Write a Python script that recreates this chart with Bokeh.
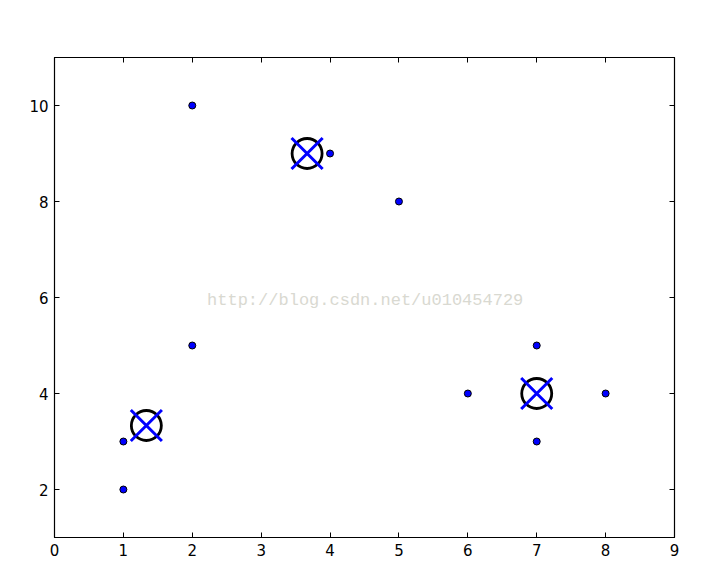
from bokeh.plotting import figure
from bokeh.models import LinearAxis, Range1d, FixedTicker, Label, CustomLabelingPolicy
from bokeh.embed import file_html
from bokeh.resources import INLINE

# data points
xs = [2, 4, 5, 1, 1, 2, 6, 7, 7, 8]
ys = [10, 9, 8, 3, 2, 5, 4, 5, 3, 4]
# centroids
cx = [4/3, 11/3, 7]
cy = [10/3, 9, 4]

x_ticks = [0, 1, 2, 3, 4, 5, 6, 7, 8, 9]
y_ticks = [2, 4, 6, 8, 10]

p = figure(width=703, height=573, output_backend="svg", toolbar_location=None,
           x_range=Range1d(0, 9), y_range=Range1d(1, 11),
           min_border_left=54, min_border_right=29, min_border_top=57, min_border_bottom=36,
           x_axis_location=None, y_axis_location=None)
p.xgrid.visible = False
p.ygrid.visible = False
p.outline_line_color = "black"
p.outline_line_width = 1.2
p.background_fill_color = "white"
p.border_fill_color = "white"

hide_labels = CustomLabelingPolicy(code="for (const i of indices) indices.unset(i); return indices")

def style(ax, ticks, labels=True):
    ax.ticker = FixedTicker(ticks=ticks)
    ax.major_tick_in = 5
    ax.major_tick_out = 0
    ax.minor_tick_in = 0
    ax.minor_tick_out = 0
    ax.axis_line_color = "black"
    ax.major_tick_line_color = "black"
    ax.major_label_text_font = "DejaVu Sans"
    ax.major_label_text_font_size = "15px"
    ax.major_label_text_color = "black"
    ax.major_label_standoff = 6
    if not labels:
        ax.major_label_policy = hide_labels
        ax.major_label_standoff = 0

bx = LinearAxis(); style(bx, x_ticks)
lx = LinearAxis(); style(lx, y_ticks)
tx = LinearAxis(); style(tx, x_ticks, False)
rx = LinearAxis(); style(rx, y_ticks, False)
p.add_layout(bx, "below")
p.add_layout(lx, "left")
p.add_layout(tx, "above")
p.add_layout(rx, "right")

p.scatter(xs, ys, marker="circle", size=7, fill_color="blue", line_color="black", line_width=1)
p.scatter(cx, cy, marker="circle", size=30, fill_color=None, line_color="black", line_width=2.8)
p.scatter(cx, cy, marker="x", size=44, line_color="blue", line_width=3)

wm = Label(x=4.51, y=5.94, text="http://blog.csdn.net/u010454729", text_font="Liberation Mono",
           text_font_size="17px", text_color="#d9d9d1", text_align="center", text_baseline="middle")
p.add_layout(wm)

open("out.html", "w").write(file_html(p, INLINE))
